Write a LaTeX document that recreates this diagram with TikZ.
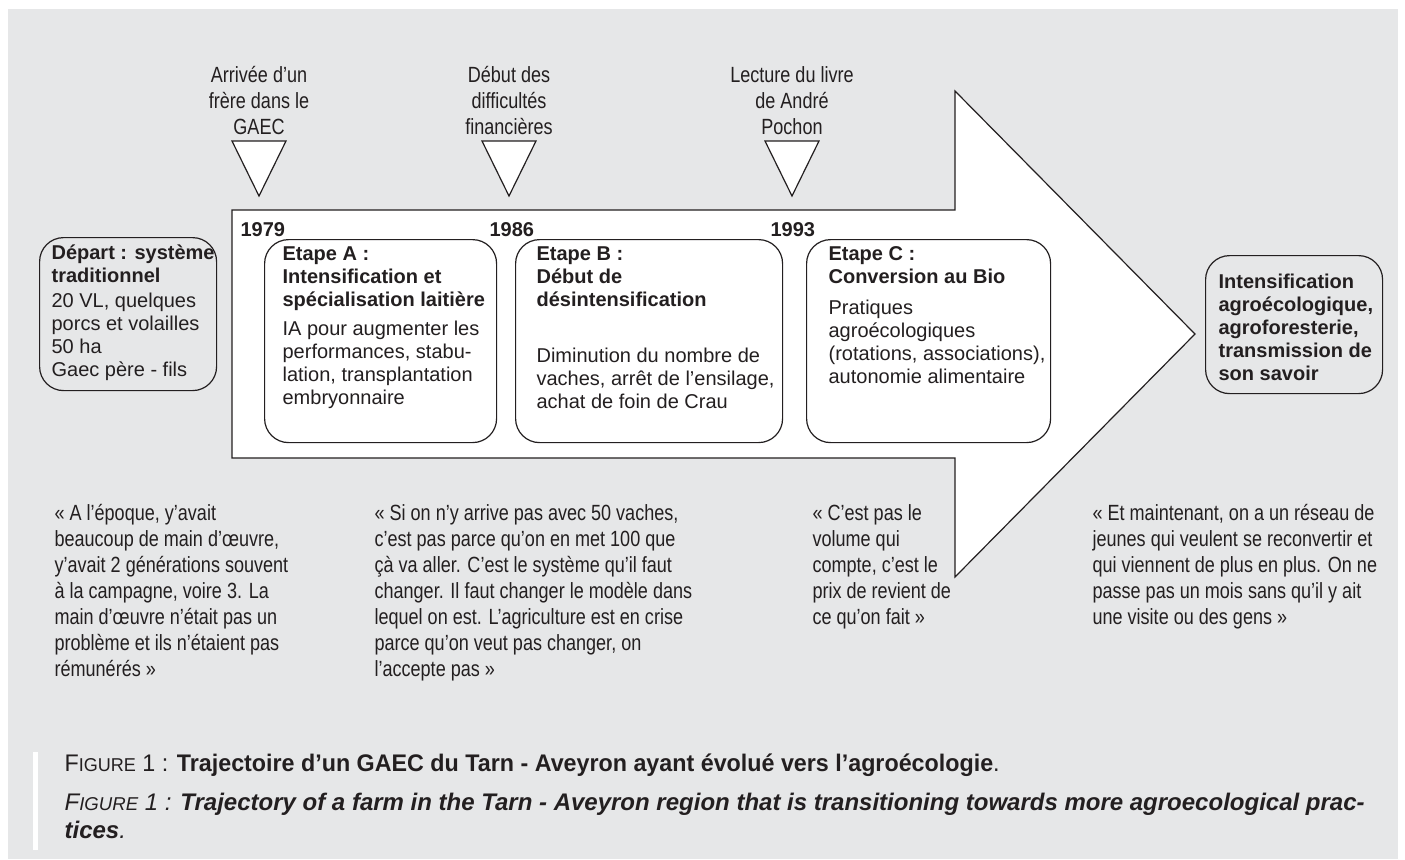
\documentclass[tikz,border=0pt]{standalone}
\usepackage{fontspec}
\setmainfont{Liberation Sans}
\newfontfamily\narrowfont[FakeStretch=0.82]{Liberation Sans}
\newfontfamily\capnarrow[FakeStretch=0.97]{Liberation Sans}
\definecolor{bg}{HTML}{E6E7E8}
\definecolor{ink}{HTML}{231F20}
\newcommand{\bxf}{\fontsize{10}{11.5}\selectfont}
\newcommand{\qf}{\narrowfont\fontsize{11}{13}\selectfont}
\newcommand{\lf}{\narrowfont\fontsize{11}{13}\selectfont}
\newcommand{\capf}{\fontsize{12}{14}\selectfont}
\newcommand{\figsc}{F{\fontsize{9.3}{10}\selectfont IGURE}}
\begin{document}
\begin{tikzpicture}[x=0.5pt,y=-0.5pt,
  line width=0.6pt,
  every node/.style={inner sep=0pt, text=ink},
  boxst/.style={draw=ink, rounded corners=12pt, anchor=north west},
  txt/.style={anchor=north west, align=left, font=\bxf},
  qt/.style={anchor=north west, align=left, font=\qf},
  lbl/.style={anchor=north, align=center, font=\lf},
  yr/.style={anchor=base west, font=\bxf\bfseries},
  tri/.style={draw=ink, fill=white, line join=miter}]
\useasboundingbox (0,0) rectangle (1405,859);
\fill[white] (0,0) rectangle (1405,859);
\fill[bg] (8,9) rectangle (1398,859);
% big arrow
\draw[draw=ink, fill=white, line join=miter] (232,210) -- (955,210) -- (955,91) -- (1195,334) -- (955,577) -- (955,458) -- (232,458) -- cycle;
% events
\node[lbl] (l1) at (259,64) {\strut Arrivée d’un\\frère dans le\\GAEC};
\node[lbl] (l2) at (509,64) {\strut Début des\\difficultés\\financières};
\node[lbl] (l3) at (792,64) {\strut Lecture du livre\\de André\\Pochon};
\draw[tri] (232,141) -- (286,141) -- (259,196) -- cycle;
\draw[tri] (482,141) -- (536,141) -- (509,196) -- cycle;
\draw[tri] (765,141) -- (819,141) -- (792,196) -- cycle;
% years
\node[yr] (y1) at (240,236) {1979};
\node[yr] (y2) at (489,236) {1986};
\node[yr] (y3) at (770,236) {1993};
% boxes
\node[boxst, fill=bg, minimum width=88.5pt, minimum height=76.5pt] (dep) at (39,237) {};
\node[boxst, fill=white, minimum width=116pt, minimum height=101.5pt] (ea) at (264,239) {};
\node[boxst, fill=white, minimum width=133.5pt, minimum height=101.5pt] (eb) at (515,239) {};
\node[boxst, fill=white, minimum width=122pt, minimum height=101.5pt] (ec) at (806,239) {};
\node[boxst, fill=bg, minimum width=88.5pt, minimum height=69pt] (fin) at (1205,255) {};
% box texts
\node[txt] (tdh) at (51,243) {\strut\textbf{Départ : système}\\\textbf{traditionnel}};
\node[txt] (tdb) at (51,291) {\strut 20 VL, quelques\\porcs et volailles\\50 ha\\Gaec père - fils};
\node[txt] (tah) at (282,244) {\strut\textbf{Etape A :}\\\textbf{Intensification et}\\\textbf{spécialisation laitière}};
\node[txt] (tab) at (282,319) {\strut IA pour augmenter les\\performances, stabu-\\lation, transplantation\\embryonnaire};
\node[txt] (tbh) at (536,244) {\strut\textbf{Etape B :}\\\textbf{Début de}\\\textbf{désintensification}};
\node[txt] (tbb) at (536,346) {\strut Diminution du nombre de\\vaches, arrêt de l’ensilage,\\achat de foin de Crau};
\node[txt] (tch) at (828,244) {\strut\textbf{Etape C :}\\\textbf{Conversion au Bio}};
\node[txt] (tcb) at (828,298) {\strut Pratiques\\agroécologiques\\(rotations, associations),\\autonomie alimentaire};
\node[txt] (tfin) at (1218,272) {\strut\textbf{Intensification}\\\textbf{agroécologique,}\\\textbf{agroforesterie,}\\\textbf{transmission de}\\\textbf{son savoir}};
% quotes
\node[qt] (q1) at (54,502) {\strut « A l’époque, y’avait\\beaucoup de main d’œuvre,\\y’avait 2 générations souvent\\à la campagne, voire 3. La\\main d’œuvre n’était pas un\\problème et ils n’étaient pas\\rémunérés »};
\node[qt] (q2) at (374,502) {\strut « Si on n’y arrive pas avec 50 vaches,\\c’est pas parce qu’on en met 100 que\\çà va aller. C’est le système qu’il faut\\changer. Il faut changer le modèle dans\\lequel on est. L’agriculture est en crise\\parce qu’on veut pas changer, on\\l’accepte pas »};
\node[qt] (q3) at (812,502) {\strut « C’est pas le\\volume qui\\compte, c’est le\\prix de revient de\\ce qu’on fait »};
\node[qt] (q4) at (1092,502) {\strut « Et maintenant, on a un réseau de\\jeunes qui veulent se reconvertir et\\qui viennent de plus en plus. On ne\\passe pas un mois sans qu’il y ait\\une visite ou des gens »};
% caption
\fill[white] (33,752) rectangle (38,850);
\node[anchor=base west, font=\capnarrow\capf] (cap1) at (64,771) {\figsc{} 1 : \textbf{Trajectoire d’un GAEC du Tarn - Aveyron ayant évolué vers l’agroécologie}.};
\node[anchor=base west, font=\capf\itshape] (cap2) at (64,810) {\figsc{} 1 : \textbf{Trajectory of a farm in the Tarn - Aveyron region that is transitioning towards more agroecological prac-}};
\node[anchor=base west, font=\capf\itshape] (cap3) at (64,838) {\textbf{tices}.};
\end{tikzpicture}
\end{document}
